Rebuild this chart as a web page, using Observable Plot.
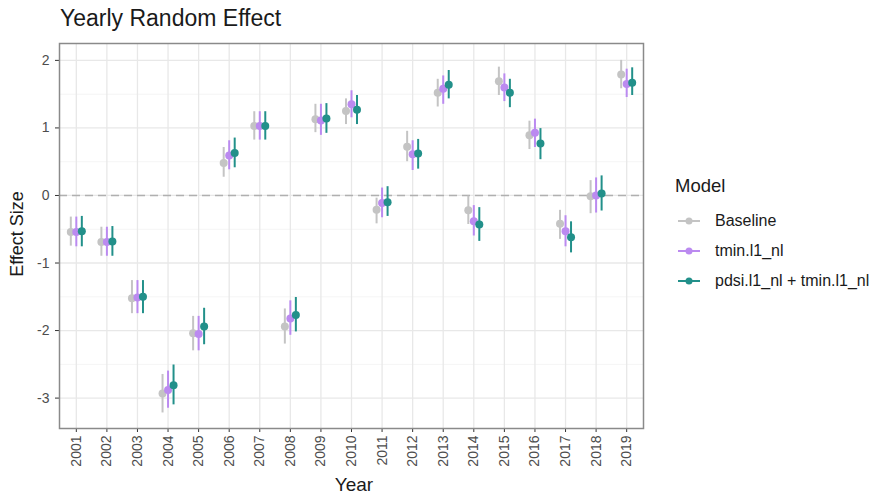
<!DOCTYPE html>
<html>
<head>
<meta charset="utf-8">
<script src="https://cdn.jsdelivr.net/npm/d3@7"></script>
<script src="https://cdn.jsdelivr.net/npm/@observablehq/plot@0.6"></script>
<style>
  html, body { margin: 0; padding: 0; background: white; }
  #wrap { position: relative; width: 872px; height: 495px; font-family: "Liberation Sans", Arial, sans-serif; }
  #wrap svg { display: block; }
  .txt { position: absolute; color: #1a1a1a; white-space: nowrap; line-height: 1; }
  #title { left: 60px; top: 7px; font-size: 23px; }
  #xlab { left: 354px; transform: translateX(-50%); top: 475px; font-size: 19px; }
  #ylab { left: 17px; top: 234px; font-size: 18px; transform: translate(-50%, -50%) rotate(-90deg); }
  #legend { position: absolute; left: 675px; top: 177px; }
  #legend .ttl { font-size: 18.5px; color: #1a1a1a; line-height: 1; height: 29px; }
  #legend .row { display: flex; align-items: center; height: 30px; font-size: 16px; color: #1a1a1a; }
  #legend .row svg { margin-right: 14px; margin-left: 2px; }
</style>
</head>
<body>
<div id="wrap">
  <div class="txt" id="title">Yearly Random Effect</div>
  <div class="txt" id="xlab">Year</div>
  <div class="txt" id="ylab">Effect Size</div>
  <div id="legend"></div>
</div>
<script>
const years = [2001,2002,2003,2004,2005,2006,2007,2008,2009,2010,2011,2012,2013,2014,2015,2016,2017,2018,2019];
const models = ["Baseline", "tmin.l1_nl", "pdsi.l1_nl + tmin.l1_nl"];
const modelColors = ["#c4c4c4", "#bb8af0", "#22908a"];
const yTicks = [-3, -2, -1, 0, 1, 2];

const baselineEst = [-0.54,-0.69,-1.52,-2.93,-2.04,0.48,1.03,-1.94,1.13,1.25,-0.21,0.72,1.52,-0.22,1.69,0.89,-0.42,-0.01,1.79];
const baselineLo  = [-0.75,-0.90,-1.75,-3.22,-2.30,0.27,0.82,-2.20,0.93,1.05,-0.42,0.50,1.31,-0.43,1.48,0.68,-0.65,-0.27,1.58];
const baselineHi  = [-0.32,-0.47,-1.26,-2.65,-1.79,0.71,1.24,-1.68,1.35,1.43,-0.04,0.95,1.72,-0.01,1.90,1.10,-0.22,0.22,2.00];

const tminEst = [-0.54,-0.69,-1.51,-2.88,-2.05,0.59,1.03,-1.82,1.11,1.35,-0.11,0.61,1.58,-0.38,1.60,0.93,-0.53,0.00,1.65];
const tminLo  = [-0.76,-0.90,-1.75,-3.15,-2.30,0.38,0.82,-2.07,0.89,1.15,-0.33,0.37,1.35,-0.60,1.39,0.71,-0.76,-0.26,1.45];
const tminHi  = [-0.32,-0.47,-1.26,-2.60,-1.79,0.81,1.24,-1.56,1.35,1.55,0.11,0.81,1.77,-0.15,1.80,1.13,-0.30,0.26,1.87];

const pdsiEst = [-0.53,-0.68,-1.50,-2.81,-1.94,0.63,1.03,-1.77,1.14,1.27,-0.10,0.62,1.64,-0.43,1.52,0.77,-0.62,0.03,1.67];
const pdsiLo  = [-0.76,-0.90,-1.75,-3.10,-2.21,0.41,0.82,-2.02,0.92,1.05,-0.31,0.39,1.43,-0.68,1.30,0.53,-0.85,-0.23,1.48];
const pdsiHi  = [-0.31,-0.46,-1.26,-2.51,-1.67,0.85,1.24,-1.51,1.36,1.48,0.13,0.83,1.85,-0.18,1.72,0.99,-0.39,0.29,1.89];

const series = [
  [baselineEst, baselineLo, baselineHi],
  [tminEst, tminLo, tminHi],
  [pdsiEst, pdsiLo, pdsiHi]
];
const dodgeWidth = 0.18;

const rows = [];
models.forEach((m, mi) => {
  const [est, lo, hi] = series[mi];
  years.forEach((yr, i) => {
    rows.push({model: m, xpos: yr + (mi - 1) * dodgeWidth, est: est[i], lo: lo[i], hi: hi[i]});
  });
});

const minorTicks = [-2.5, -1.5, -0.5, 0.5, 1.5];

const chart = Plot.plot({
  width: 872,
  height: 495,
  marginLeft: 59,
  marginRight: 229,
  marginTop: 43,
  marginBottom: 67,
  style: {fontFamily: "'Liberation Sans', Arial, sans-serif", background: "white", overflow: "visible"},
  x: {domain: [years[0] - 0.55, years[years.length - 1] + 0.55]},
  y: {domain: [-3.45, 2.25]},
  color: {domain: models, range: modelColors},
  marks: [
    Plot.gridY(minorTicks, {stroke: "#f1f1f1", strokeOpacity: 1, strokeWidth: 0.8}),
    Plot.gridY(yTicks, {stroke: "#e8e8e8", strokeOpacity: 1, strokeWidth: 1.3}),
    Plot.gridX(years, {stroke: "#e8e8e8", strokeOpacity: 1, strokeWidth: 1.3}),
    Plot.ruleY([0], {stroke: "#b0b0b0", strokeWidth: 1.5, strokeDasharray: "8,5"}),
    Plot.ruleX(rows, {x: "xpos", y1: "lo", y2: "hi", stroke: "model", strokeWidth: 2}),
    Plot.dot(rows, {x: "xpos", y: "est", fill: "model", r: 4}),
    Plot.axisX(years, {tickFormat: d => String(d), tickRotate: -90, label: null, fontSize: 14, tickSize: 4, tickPadding: 3, stroke: "#333", color: "#4d4d4d"}),
    Plot.axisY(yTicks, {tickFormat: d => String(d), label: null, fontSize: 14, tickSize: 4, tickPadding: 6, stroke: "#333", color: "#4d4d4d"}),
    Plot.frame({stroke: "#8a8a8a", strokeWidth: 1.5})
  ]
});
document.getElementById("wrap").prepend(chart);

// legend
const legend = document.getElementById("legend");
const ttl = document.createElement("div");
ttl.className = "ttl";
ttl.textContent = "Model";
legend.appendChild(ttl);
models.forEach((m, i) => {
  const row = document.createElement("div");
  row.className = "row";
  const svg = d3.create("svg").attr("width", 24).attr("height", 12);
  svg.append("line").attr("x1", 1).attr("x2", 23).attr("y1", 6).attr("y2", 6).attr("stroke", modelColors[i]).attr("stroke-width", 2);
  svg.append("circle").attr("cx", 12).attr("cy", 6).attr("r", 3.5).attr("fill", modelColors[i]);
  row.appendChild(svg.node());
  const span = document.createElement("span");
  span.textContent = m;
  row.appendChild(span);
  legend.appendChild(row);
});
</script>
</body>
</html>
